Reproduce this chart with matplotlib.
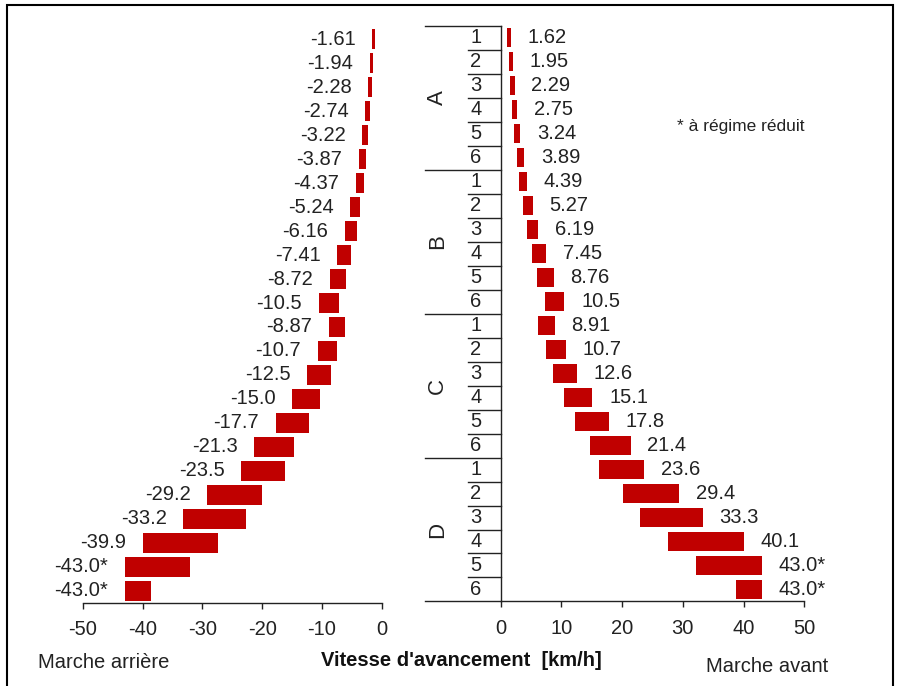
import matplotlib.pyplot as plt
from matplotlib.patches import Rectangle

plt.rcParams['font.family'] = ['Liberation Sans', 'DejaVu Sans']
plt.rcParams['axes.unicode_minus'] = False

# === DATA ===
groups = ['A', 'B', 'C', 'D']
gears = ['1', '2', '3', '4', '5', '6']

# forward speeds (km/h): upper end of each range (labelled) and lower end
fwd_max = [1.62, 1.95, 2.29, 2.75, 3.24, 3.89,
           4.39, 5.27, 6.19, 7.45, 8.76, 10.5,
           8.91, 10.7, 12.6, 15.1, 17.8, 21.4,
           23.6, 29.4, 33.3, 40.1, 43.0, 43.0]
fwd_min = [1.10, 1.35, 1.60, 1.90, 2.25, 2.70,
           3.05, 3.65, 4.30, 5.15, 6.05, 7.25,
           6.20, 7.45, 8.70, 10.4, 12.25, 14.7,
           16.2, 20.2, 22.95, 27.6, 32.2, 38.8]
fwd_labels = ['1.62', '1.95', '2.29', '2.75', '3.24', '3.89',
              '4.39', '5.27', '6.19', '7.45', '8.76', '10.5',
              '8.91', '10.7', '12.6', '15.1', '17.8', '21.4',
              '23.6', '29.4', '33.3', '40.1', '43.0*', '43.0*']

# reverse speeds (km/h)
rev_max = [-1.61, -1.94, -2.28, -2.74, -3.22, -3.87,
           -4.37, -5.24, -6.16, -7.41, -8.72, -10.5,
           -8.87, -10.7, -12.5, -15.0, -17.7, -21.3,
           -23.5, -29.2, -33.2, -39.9, -43.0, -43.0]
rev_min = [-1.12, -1.40, -1.65, -1.90, -2.24, -2.68,
           -3.00, -3.60, -4.20, -5.10, -6.00, -7.20,
           -6.10, -7.40, -8.55, -10.4, -12.2, -14.6,
           -16.1, -20.1, -22.7, -27.3, -32.1, -38.5]
rev_labels = ['-1.61', '-1.94', '-2.28', '-2.74', '-3.22', '-3.87',
              '-4.37', '-5.24', '-6.16', '-7.41', '-8.72', '-10.5',
              '-8.87', '-10.7', '-12.5', '-15.0', '-17.7', '-21.3',
              '-23.5', '-29.2', '-33.2', '-39.9', '-43.0*', '-43.0*']

bar_color = '#C00000'
fs = 14.5
n = len(fwd_max)
rows = [i + 0.5 for i in range(n)]

fig = plt.figure(figsize=(9, 6.86), dpi=100)

ax_l = fig.add_axes([0.0919, 0.1214, 0.3322, 0.8388])
ax_r = fig.add_axes([0.5563, 0.1232, 0.3373, 0.8394])

for ax in (ax_l, ax_r):
    ax.set_ylim(n, 0)
    ax.set_yticks([])
    for s in ['top', 'right']:
        ax.spines[s].set_visible(False)
    ax.tick_params(axis='x', length=4.3, width=1, pad=8, labelsize=fs,
                   colors='#222222')
    ax.spines['bottom'].set_linewidth(1)
    ax.spines['bottom'].set_color('#222222')

# --- reverse (left) ---
ax_l.spines['left'].set_visible(False)
ax_l.set_xlim(-50, 0)
ax_l.set_xticks([-50, -40, -30, -20, -10, 0])
ax_l.barh(rows, [a - b for a, b in zip(rev_max, rev_min)], left=rev_min,
          height=0.82, color=bar_color, edgecolor='none')
for y, v, lab in zip(rows, rev_max, rev_labels):
    ax_l.annotate(lab, (v, y), xytext=(-12, 0), textcoords='offset points',
                  ha='right', va='center', fontsize=fs, color='#222222',
                  annotation_clip=False)

# --- forward (right) ---
ax_r.spines['left'].set_linewidth(1)
ax_r.spines['left'].set_color('#222222')
ax_r.set_xlim(0, 50)
ax_r.set_xticks([0, 10, 20, 30, 40, 50])
ax_r.barh(rows, [a - b for a, b in zip(fwd_max, fwd_min)], left=fwd_min,
          height=0.82, color=bar_color, edgecolor='none')
for y, v, lab in zip(rows, fwd_max, fwd_labels):
    ax_r.annotate(lab, (v, y), xytext=(12, 0), textcoords='offset points',
                  ha='left', va='center', fontsize=fs, color='#222222',
                  annotation_clip=False)

# gear table left of the forward axis
x_long, x_short, x_num, x_grp = -12.47, -5.39, -4.07, -10.38
for gi, g in enumerate(groups):
    top = gi * len(gears)
    ax_r.plot([x_long, 0], [top, top], color='#222222', lw=1, clip_on=False)
    ax_r.text(x_grp, top + len(gears) / 2, g, rotation=90, ha='center',
              va='center', fontsize=16, color='#222222', clip_on=False)
    for k, num in enumerate(gears):
        if k > 0:
            ax_r.plot([x_short, 0], [top + k, top + k], color='#222222', lw=1,
                      clip_on=False)
        ax_r.text(x_num, top + k + 0.5, num, ha='center', va='center',
                  fontsize=fs, color='#222222', clip_on=False)
ax_r.plot([x_long, 0], [n, n], color='#222222', lw=1, clip_on=False)

# texts
fig.text(676.7 / 900, 1 - 126 / 686, '* à régime réduit', fontsize=12.5,
         ha='left', va='center', color='#222222')
fig.text(37.7 / 900, 1 - 662 / 686, 'Marche arrière', fontsize=fs,
         ha='left', va='center', color='#222222')
fig.text(461 / 900, 1 - 661 / 686, "Vitesse d'avancement  [km/h]",
         fontsize=fs, fontweight='bold', ha='center', va='center',
         color='#111111')
fig.text(828 / 900, 1 - 667 / 686, 'Marche avant', fontsize=fs,
         ha='right', va='center', color='#222222')

# outer frame
fig.patches.append(Rectangle((7 / 900, -0.02), 886 / 900, 1.02 - 5 / 686,
                             transform=fig.transFigure, fill=False,
                             edgecolor='black', lw=1.5))

fig.savefig('out.png', dpi=100)
